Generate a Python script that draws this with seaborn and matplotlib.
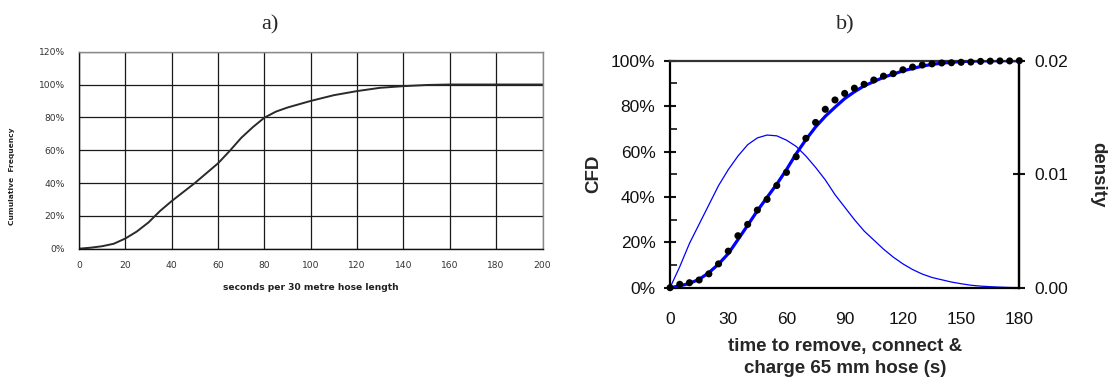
import matplotlib
matplotlib.use("Agg")
import matplotlib.pyplot as plt
import numpy as np
import pandas as pd
import seaborn as sns
from matplotlib.ticker import MultipleLocator, FixedLocator, FuncFormatter

# ---- panel a: cumulative frequency of hose-length times ----
a_seconds = [0, 5, 10, 15, 20, 25, 30, 35, 40, 45, 50, 55, 60, 65, 70, 75, 80,
             85, 90, 100, 110, 120, 130, 140, 150, 160, 200]
a_cum_pct = [0, 0.6, 1.5, 3.0, 6.2, 10.5, 16.0, 23.0, 29.0, 34.5, 40.0, 46.0,
             52.0, 59.5, 67.5, 74.0, 79.8, 83.5, 86.0, 90.0, 93.5, 96.0, 98.0,
             99.0, 99.7, 100, 100]

# ---- panel b: observed CFD, fitted CFD and fitted density ----
b_time = [0, 5, 10, 15, 20, 25, 30, 35, 40, 45, 50, 55, 60, 65, 70, 75, 80, 85,
          90, 95, 100, 105, 110, 115, 120, 125, 130, 135, 140, 145, 150, 155,
          160, 165, 170, 175, 180]
b_observed_pct = [0, 1.5, 2.2, 3.4, 6.1, 10.5, 16.1, 22.9, 27.9, 34.2, 38.9,
                  45.0, 50.8, 57.7, 65.8, 72.8, 78.6, 82.7, 85.6, 87.9, 89.6,
                  91.5, 93.2, 94.3, 96.0, 97.2, 98.1, 98.6, 99.0, 99.1, 99.3,
                  99.4, 99.7, 99.8, 99.9, 99.9, 100]
b_fitted_pct = [0, 0.8, 1.9, 3.7, 6.6, 10.4, 15.0, 21.2, 27.5, 33.9, 39.8,
                45.6, 52.0, 59.0, 65.2, 70.8, 75.5, 79.5, 83.3, 86.3, 88.9,
                90.8, 92.7, 94.1, 95.5, 96.6, 97.6, 98.4, 98.9, 99.3, 99.6,
                99.8, 99.9, 99.95, 100, 100, 100]
b_density = [0, 0.00185, 0.0039, 0.0056, 0.0073, 0.0090, 0.0104, 0.0116,
             0.0126, 0.0132, 0.01345, 0.01338, 0.0130, 0.01245, 0.0116, 0.0106,
             0.0095, 0.0082, 0.0071, 0.0060, 0.0050, 0.0042, 0.0034, 0.0027,
             0.0021, 0.0016, 0.0012, 0.0009, 0.0007, 0.0005, 0.00035, 0.00022,
             0.00014, 0.00009, 0.00005, 0.00002, 0.0]

sns.set_style("white")
plt.rcParams["font.family"] = ["Liberation Sans", "DejaVu Sans"]

df_a = pd.DataFrame({"t": a_seconds, "cum": a_cum_pct})
df_b = pd.DataFrame({"t": b_time, "obs": b_observed_pct,
                     "fit": b_fitted_pct, "dens": b_density})

fig = plt.figure(figsize=(11.11, 3.83), dpi=100)

# ================= panel a =================
ax1 = fig.add_axes([0.0711, 0.3507, 0.4172, 0.5144])
sns.lineplot(data=df_a, x="t", y="cum", ax=ax1, color="#2a2a2a", linewidth=1.4)
ax1.set_xlim(0, 200)
ax1.set_ylim(0, 120)
ax1.xaxis.set_major_locator(MultipleLocator(20))
ax1.yaxis.set_major_locator(MultipleLocator(20))
ax1.yaxis.set_major_formatter(FuncFormatter(lambda v, p: f"{v:.0f}%"))
ax1.grid(True, color="#1a1a1a", linewidth=0.9)
ax1.set_axisbelow(True)
for side in ["left", "bottom"]:
    ax1.spines[side].set_color("#111111")
    ax1.spines[side].set_linewidth(1.0)
for side in ["top", "right"]:
    ax1.spines[side].set_color("#8a8a8a")
    ax1.spines[side].set_linewidth(1.0)
ax1.tick_params(axis="both", direction="out", width=0.8, colors="#222222")
ax1.tick_params(axis="y", length=8, pad=2)
ax1.tick_params(axis="x", length=3, pad=6)
for lbl in ax1.get_xticklabels() + ax1.get_yticklabels():
    lbl.set_family("DejaVu Sans")
    lbl.set_fontsize(6.6)
    lbl.set_color("#333333")
ax1.set_xlabel("seconds per 30 metre hose length", fontsize=6.6,
               fontweight="bold", color="#222222", family="DejaVu Sans")
ax1.xaxis.set_label_coords(0.5, -0.175)
ax1.set_ylabel("Cumulative  Frequency", fontsize=5.4, fontweight="bold",
               color="#222222", family="DejaVu Sans")
ax1.yaxis.set_label_coords(-0.138, 0.37)
fig.text(0.243, 0.935, "a)", fontsize=16, family="Liberation Serif",
         ha="center", va="center")

# ================= panel b =================
ax2 = fig.add_axes([0.6031, 0.2488, 0.3144, 0.5927])
sns.lineplot(data=df_b, x="t", y="fit", ax=ax2, color="#0000ff",
             linewidth=2.3, zorder=3)
sns.scatterplot(data=df_b, x="t", y="obs", ax=ax2, color="black", s=26,
                edgecolor="none", zorder=4, clip_on=False)
ax2.set_xlim(0, 180)
ax2.set_ylim(0, 100)
ax2.xaxis.set_major_locator(MultipleLocator(30))
ax2.xaxis.set_minor_locator(MultipleLocator(10))
ax2.yaxis.set_major_locator(MultipleLocator(20))
ax2.yaxis.set_minor_locator(MultipleLocator(10))
ax2.yaxis.set_major_formatter(FuncFormatter(lambda v, p: f"{v:.0f}%"))
ax2.tick_params(axis="both", which="major", direction="inout", length=9,
                width=1.5, labelsize=12.5, colors="#111111", pad=6)
ax2.tick_params(axis="both", which="minor", direction="in", length=5,
                width=1.2, colors="#111111")
ax2.tick_params(axis="x", which="major", pad=13)
for side in ["left", "bottom", "right"]:
    ax2.spines[side].set_color("black")
    ax2.spines[side].set_linewidth(1.6)
ax2.spines["top"].set_color("#333333")
ax2.spines["top"].set_linewidth(1.6)
ax2.set_xlabel("time to remove, connect &\ncharge 65 mm hose (s)",
               fontsize=13.5, fontweight="bold", labelpad=8, linespacing=1.35)
ax2.set_ylabel("CFD", fontsize=13.5, fontweight="bold", labelpad=6)

ax3 = ax2.twinx()
sns.lineplot(data=df_b, x="t", y="dens", ax=ax3, color="#0000ff",
             linewidth=0.9, zorder=2)
ax3.set_ylim(0, 0.02)
ax3.yaxis.set_major_locator(FixedLocator([0.0, 0.01, 0.02]))
ax3.yaxis.set_major_formatter(FuncFormatter(lambda v, p: f"{v:.2f}"))
ax3.tick_params(axis="y", which="major", direction="inout", length=9,
                width=1.5, labelsize=12.5, colors="#111111", pad=6)
for side in ["left", "bottom", "top"]:
    ax3.spines[side].set_visible(False)
ax3.spines["right"].set_color("black")
ax3.spines["right"].set_linewidth(1.6)
ax3.set_ylabel("density", fontsize=13.5, fontweight="bold", rotation=270,
               labelpad=28)
ax2.set_zorder(ax3.get_zorder() + 1)
ax2.patch.set_visible(False)

fig.text(0.761, 0.935, "b)", fontsize=16, family="Liberation Serif",
         ha="center", va="center")

fig.savefig("out.png", dpi=100, facecolor="white")
